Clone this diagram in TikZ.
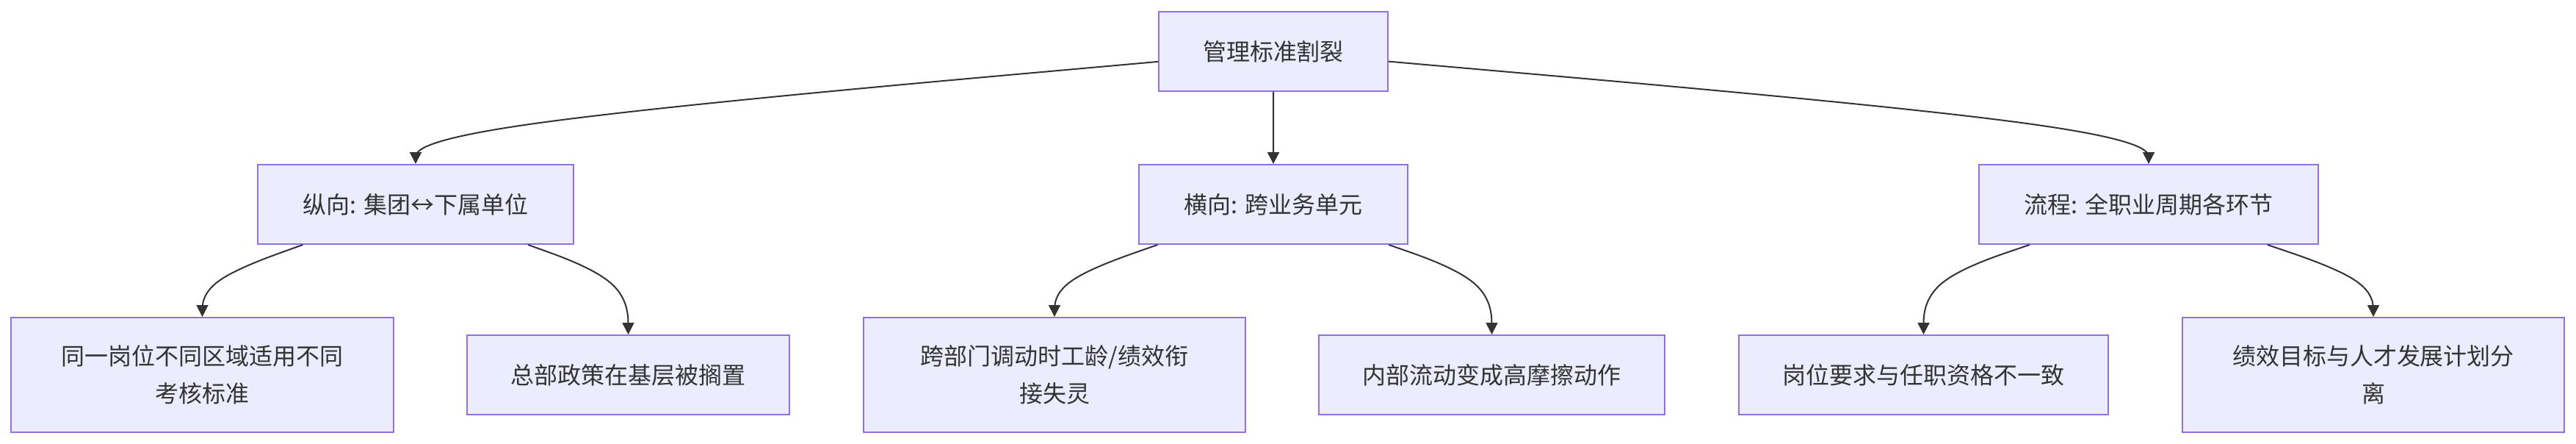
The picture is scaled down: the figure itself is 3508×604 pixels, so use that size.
\documentclass[tikz,border=0pt]{standalone}
\usepackage{fontspec}
\setmainfont{Noto Sans CJK SC}
\usetikzlibrary{calc,arrows.meta}
\definecolor{nodefill}{HTML}{ECECFF}
\definecolor{nodeline}{HTML}{9370DB}
\definecolor{ink}{HTML}{333333}
\newcommand\mmedge[3]{%
  \path (#1) -- (#3) coordinate[pos=0] (P0);
  \coordinate (P1) at (#3);
  \coordinate (P2) at (#2.north);
  \draw[edge] (P0) -- ($(P0)!0.16667!(P1)$)
    .. controls ($(P0)!0.33333!(P1)$) and ($(P0)!0.66667!(P1)$) .. ($0.16667*(P0)+0.66667*(P1)+0.16667*(P2)$)
    .. controls ($(P1)!0.33333!(P2)$) and ($(P1)!0.66667!(P2)$) .. ($(P1)!0.83333!(P2)$) -- (P2);
}
\begin{document}
\begin{tikzpicture}[x=0.02cm,y=-0.02cm,
  box/.style={draw=nodeline,fill=nodefill,line width=0.04cm,text=ink,align=center,inner sep=0pt,
    font=\fontsize{18.2}{29}\selectfont,minimum height=2.16cm},
  tallbox/.style={box,minimum height=3.12cm},
  edge/.style={draw=ink,line width=0.04cm,-{Triangle[length=0.32cm,width=0.32cm]}}]
\useasboundingbox (0,0) rectangle (3508,604);
\node[box,minimum width=6.24cm] (root) at (1734,70) {管理标准割裂};
\node[box,minimum width=8.6cm] (L1) at (566,278) {纵向: 集团↔下属单位};
\node[box,minimum width=7.32cm] (M1) at (1734,278) {横向: 跨业务单元};
\node[box,minimum width=9.25cm] (R1) at (2926,278) {流程: 全职业周期各环节};
\node[tallbox,minimum width=10.42cm] (A) at (275.5,510) {同一岗位不同区域适用不同\\考核标准};
\node[box,minimum width=8.78cm] (B) at (855.5,510) {总部政策在基层被搁置};
\node[tallbox,minimum width=10.4cm] (C) at (1436,510) {跨部门调动时工龄/绩效衔\\接失灵};
\node[box,minimum width=9.42cm] (D) at (2031.5,510) {内部流动变成高摩擦动作};
\node[box,minimum width=10.06cm] (E) at (2619.5,510) {岗位要求与任职资格不一致};
\node[tallbox,minimum width=10.4cm] (F) at (3232,510) {绩效目标与人才发展计划分\\离};
\coordinate (kL1) at (566,174);
\coordinate (kM1) at (1734,174);
\coordinate (kR1) at (2926,174);
\coordinate (kA) at (275.5,382);
\coordinate (kB) at (855.5,382);
\coordinate (kC) at (1436,382);
\coordinate (kD) at (2031.5,382);
\coordinate (kE) at (2619.5,382);
\coordinate (kF) at (3232,382);
\mmedge{root}{L1}{kL1}
\mmedge{root}{M1}{kM1}
\mmedge{root}{R1}{kR1}
\mmedge{L1}{A}{kA}
\mmedge{L1}{B}{kB}
\mmedge{M1}{C}{kC}
\mmedge{M1}{D}{kD}
\mmedge{R1}{E}{kE}
\mmedge{R1}{F}{kF}
\end{tikzpicture}
\end{document}
